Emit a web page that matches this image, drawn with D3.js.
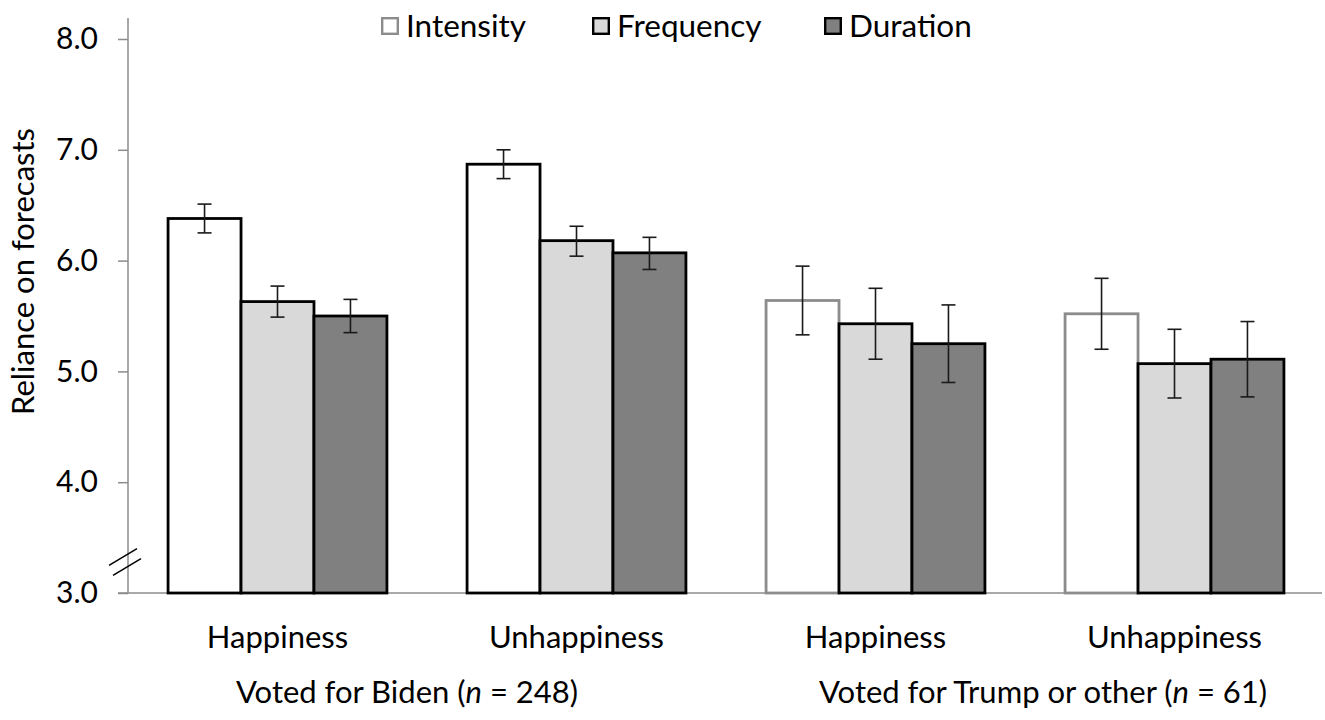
<!DOCTYPE html>
<html>
<head>
<meta charset="utf-8">
<script src="https://cdn.jsdelivr.net/npm/d3@7"></script>
<style>
  html, body { margin: 0; padding: 0; background: #fff; }
  svg { display: block; }
  text { font-family: Lato, "Open Sans", sans-serif; fill: #000; }
</style>
</head>
<body>
<svg id="chart" width="1325" height="720"></svg>
<script>
// ---- data ----
const categories = ["Happiness", "Unhappiness", "Happiness ", "Unhappiness "];
const categoryLabels = ["Happiness", "Unhappiness", "Happiness", "Unhappiness"];
const categoryGroup = [0, 0, 1, 1];
const groupLabels = [["Voted for Biden (", "n", " = 248)"], ["Voted for Trump or other (", "n", " = 61)"]];
const series = ["Intensity", "Frequency", "Duration"];
const intensity = [6.38, 6.87, 5.64, 5.52];
const frequency = [5.63, 6.18, 5.43, 5.07];
const duration  = [5.50, 6.07, 5.25, 5.11];
const intensityLow  = [6.25, 6.74, 5.33, 5.20];
const intensityHigh = [6.51, 7.00, 5.95, 5.84];
const frequencyLow  = [5.49, 6.04, 5.11, 4.76];
const frequencyHigh = [5.77, 6.31, 5.75, 5.38];
const durationLow   = [5.35, 5.92, 4.90, 4.77];
const durationHigh  = [5.65, 6.21, 5.60, 5.45];
const yTicks = [3, 4, 5, 6, 7, 8];
const yLabel = "Reliance on forecasts";

const values = [intensity, frequency, duration];
const lows = [intensityLow, frequencyLow, durationLow];
const highs = [intensityHigh, frequencyHigh, durationHigh];

const svg = d3.select("#chart");

const x0 = d3.scaleBand().domain(categories).range([128, 1324])
  .paddingInner(0.268).paddingOuter(0.134);
const x1 = d3.scaleBand().domain(series).range([0, x0.bandwidth()]).padding(0);
const y = d3.scaleLinear().domain([3, 8]).range([593, 39]);

const fills = { Intensity: "#ffffff", Frequency: "#d9d9d9", Duration: "#808080" };
const strokeFor = (s, ci) => (s === "Intensity" && categoryGroup[ci] === 1) ? "#8c8c8c" : "#000";

// y axis
const yAxis = d3.axisLeft(y).tickValues(yTicks).tickFormat(d3.format(".1f"))
  .tickSize(10).tickPadding(20);
const gy = svg.append("g").attr("transform", "translate(128,0)").call(yAxis);
gy.select(".domain").remove();
gy.selectAll(".tick line").attr("stroke", "#8c8c8c").attr("stroke-width", 1.5);
gy.selectAll(".tick text").attr("font-size", 30).attr("font-family", "Lato, sans-serif").attr("fill", "#000");
svg.append("line").attr("x1", 128).attr("x2", 128).attr("y1", 18).attr("y2", y(3))
  .attr("stroke", "#8c8c8c").attr("stroke-width", 1.5);

// x axis baseline
svg.append("line").attr("x1", 118).attr("x2", 1322).attr("y1", y(3)).attr("y2", y(3))
  .attr("stroke", "#8c8c8c").attr("stroke-width", 1.5);

// axis break marks
const brk = svg.append("g").attr("stroke", "#000").attr("stroke-width", 1.5);
brk.append("line").attr("x1", 109).attr("y1", y(3.25)).attr("x2", 137).attr("y2", y(3.40));
brk.append("line").attr("x1", 113).attr("y1", y(3.16)).attr("x2", 141).attr("y2", y(3.31));

// y label
svg.append("text").attr("transform", `translate(34,${(128 + 415) / 2}) rotate(-90)`)
  .attr("text-anchor", "middle").attr("font-size", 31).text(yLabel);

// bars
const gBars = svg.append("g");
categories.forEach((c, ci) => {
  series.forEach((s, si) => {
    const v = values[si][ci];
    gBars.append("rect")
      .attr("x", x0(c) + x1(s))
      .attr("y", y(v))
      .attr("width", x1.bandwidth())
      .attr("height", y(3) - y(v))
      .attr("fill", fills[s])
      .attr("stroke", strokeFor(s, ci))
      .attr("stroke-width", 2.8);
  });
});
gBars.selectAll("rect").filter(function() { return d3.select(this).attr("stroke") === "#000"; }).raise();

// error bars
const gErr = svg.append("g").attr("stroke", "#1a1a1a").attr("stroke-width", 1.6);
categories.forEach((c, ci) => {
  series.forEach((s, si) => {
    const cx = x0(c) + x1(s) + x1.bandwidth() / 2;
    const lo = y(lows[si][ci]), hi = y(highs[si][ci]);
    gErr.append("line").attr("x1", cx).attr("x2", cx).attr("y1", lo).attr("y2", hi);
    gErr.append("line").attr("x1", cx - 7).attr("x2", cx + 7).attr("y1", lo).attr("y2", lo);
    gErr.append("line").attr("x1", cx - 7).attr("x2", cx + 7).attr("y1", hi).attr("y2", hi);
  });
});

// category labels
categories.forEach((c, ci) => {
  svg.append("text").attr("x", x0(c) + x0.bandwidth() / 2).attr("y", 648)
    .attr("text-anchor", "middle").attr("font-size", 31).text(categoryLabels[ci]);
});

// group labels
const groupOffsets = [-20, 18];
groupLabels.forEach((parts, gi) => {
  const a = categories[gi * 2], b = categories[gi * 2 + 1];
  const mid = (x0(a) + x0(b) + x0.bandwidth()) / 2 + groupOffsets[gi];
  const t = svg.append("text").attr("x", mid).attr("y", 703)
    .attr("text-anchor", "middle").attr("font-size", 31);
  t.append("tspan").text(parts[0]);
  t.append("tspan").attr("font-style", "italic").text(parts[1]);
  t.append("tspan").text(parts[2]);
});

// legend
const legendX = [381, 592, 824];
const legendStroke = { Intensity: "#8c8c8c", Frequency: "#000", Duration: "#000" };
series.forEach((s, si) => {
  const g = svg.append("g").attr("transform", `translate(${legendX[si]},17)`);
  g.append("rect").attr("x", 1.2).attr("y", 1.2).attr("width", 15.6).attr("height", 15.6)
    .attr("fill", fills[s]).attr("stroke", legendStroke[s]).attr("stroke-width", 2.4);
  g.append("text").attr("x", 25).attr("y", 20).attr("font-size", 31.5).text(s);
});
</script>
</body>
</html>
